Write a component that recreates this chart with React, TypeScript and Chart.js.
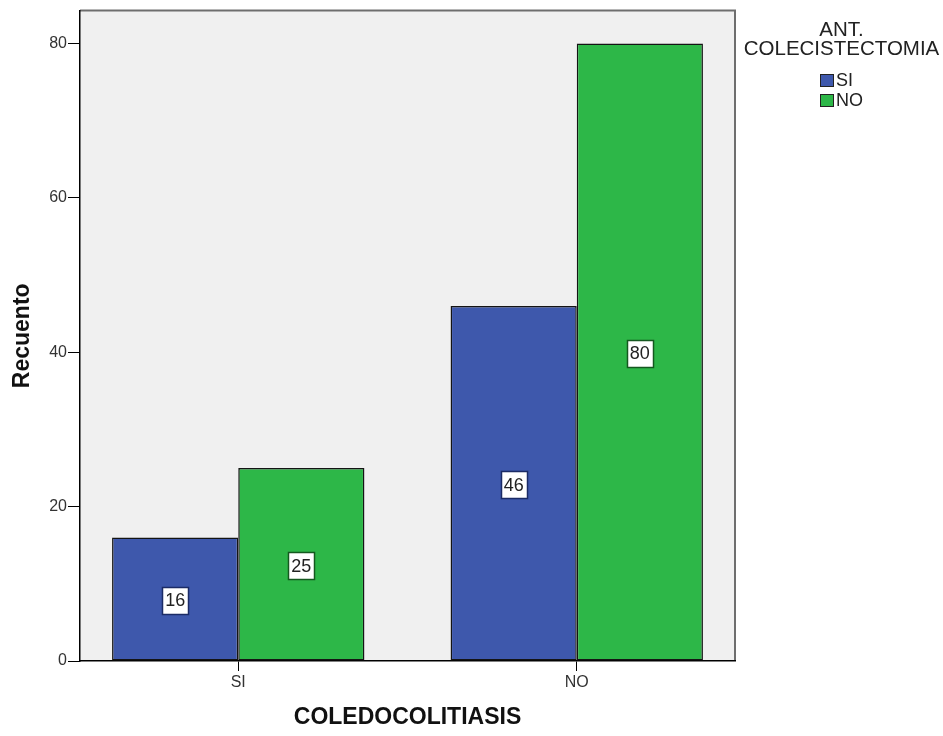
import React, { useEffect, useRef } from "react";
import { Chart, registerables } from "chart.js";

Chart.register(...registerables);

// Categories on the x axis (COLEDOCOLITIASIS)
const CATEGORIES = ["SI", "NO"];
// Grouping variable (ANT. COLECISTECTOMIA)
const GROUP_LABELS = ["SI", "NO"];
const COUNTS_ANT_SI = [16, 46];
const COUNTS_ANT_NO = [25, 80];
const Y_TICKS = [0, 20, 40, 60, 80];
const LEGEND_TITLE = ["ANT.", "COLECISTECTOMIA"];

const GROUP_COLORS = ["#3E58AC", "#2DB748"];
const GROUP_EDGE = ["#1B2B66", "#14581F"];

const FONT = "'Liberation Sans', Arial, Helvetica, sans-serif";

// Outer categories sit this far (in category units) from the plot edges
const EDGE_PAD = 0.4675;
const Y_MAX = 84.25;

const plotBackground = {
  id: "plotBackground",
  beforeDraw(chart: any) {
    const { ctx, chartArea: a } = chart;
    ctx.save();
    ctx.fillStyle = "#F0F0F0";
    ctx.fillRect(a.left, a.top, a.right - a.left, a.bottom - a.top);
    // top and right frame of the plot
    ctx.strokeStyle = "#6E6E6E";
    ctx.lineWidth = 2;
    ctx.beginPath();
    ctx.moveTo(a.left, a.top);
    ctx.lineTo(a.right, a.top);
    ctx.lineTo(a.right, a.bottom);
    ctx.stroke();
    ctx.restore();
  },
};

const barValueBoxes = {
  id: "barValueBoxes",
  afterDatasetsDraw(chart: any) {
    const { ctx } = chart;
    ctx.save();
    ctx.font = `18px ${FONT}`;
    ctx.textAlign = "center";
    ctx.textBaseline = "middle";
    chart.data.datasets.forEach((ds: any, di: number) => {
      const meta = chart.getDatasetMeta(di);
      meta.data.forEach((el: any, i: number) => {
        const { x, y, base } = el.getProps(["x", "y", "base"], true);
        const text = String(ds.data[i].y);
        const w = ctx.measureText(text).width + 6;
        const h = 27;
        const cy = (y + base) / 2 + 1.5;
        ctx.fillStyle = "#FFFFFF";
        ctx.fillRect(Math.round(x - w / 2) + 0.5, Math.round(cy - h / 2) + 0.5, Math.round(w), h);
        ctx.strokeStyle = ds.valueBoxEdge;
        ctx.lineWidth = 1.5;
        ctx.strokeRect(Math.round(x - w / 2) + 0.5, Math.round(cy - h / 2) + 0.5, Math.round(w), h);
        ctx.fillStyle = "#222222";
        ctx.fillText(text, x, cy + 1);
      });
    });
    ctx.restore();
  },
};

const sideLegend = {
  id: "sideLegend",
  afterDraw(chart: any) {
    const { ctx, chartArea: a } = chart;
    const cx = a.right + 106.5;
    ctx.save();
    ctx.fillStyle = "#222222";
    ctx.textAlign = "center";
    ctx.textBaseline = "middle";
    ctx.font = `20.5px ${FONT}`;
    LEGEND_TITLE.forEach((line, i) => {
      ctx.fillText(line, cx, 30 + i * 19.5);
    });
    ctx.font = `18px ${FONT}`;
    ctx.textAlign = "left";
    chart.data.datasets.forEach((ds: any, i: number) => {
      const bx = a.right + 85;
      const by = 74 + i * 20;
      ctx.fillStyle = ds.backgroundColor;
      ctx.fillRect(bx, by, 14, 13);
      ctx.strokeStyle = "#222222";
      ctx.lineWidth = 1;
      ctx.strokeRect(bx + 0.5, by + 0.5, 13, 12);
      ctx.fillStyle = "#222222";
      ctx.fillText(ds.label, bx + 16, by + 7);
    });
    ctx.restore();
  },
};

export default function App() {
  const canvasRef = useRef<HTMLCanvasElement | null>(null);

  useEffect(() => {
    document.body.style.margin = "0";
    const canvas = canvasRef.current;
    if (!canvas) return;

    const seriesValues = [COUNTS_ANT_SI, COUNTS_ANT_NO];
    const datasets = GROUP_LABELS.map((label, gi) => ({
      label,
      data: seriesValues[gi].map((v, ci) => ({ x: ci, y: v })),
      backgroundColor: GROUP_COLORS[gi],
      borderColor: "#141414",
      borderWidth: 1.5,
      borderSkipped: false,
      valueBoxEdge: GROUP_EDGE[gi],
    }));

    const chart = new Chart(canvas, {
      type: "bar",
      data: { datasets } as any,
      plugins: [plotBackground, barValueBoxes, sideLegend],
      options: {
        responsive: false,
        animation: false,
        devicePixelRatio: 1,
        layout: { padding: { top: 7, right: 208, left: 0, bottom: 0 } },
        datasets: { bar: { categoryPercentage: 252 / 338, barPercentage: 1 } },
        plugins: { legend: { display: false }, tooltip: { enabled: false } },
        scales: {
          x: {
            type: "linear",
            min: -EDGE_PAD,
            max: CATEGORIES.length - 1 + EDGE_PAD,
            offset: false,
            afterFit: (s: any) => {
              s.height = 75;
            },
            afterBuildTicks: (s: any) => {
              s.ticks = CATEGORIES.map((_, i) => ({ value: i }));
            },
            ticks: {
              callback: (v: any) => CATEGORIES[v],
              font: { family: FONT, size: 16 },
              color: "#333333",
              padding: 2,
              autoSkip: false,
              maxRotation: 0,
            },
            grid: {
              display: true,
              drawOnChartArea: false,
              drawTicks: true,
              tickLength: 10,
              color: "#000000",
              offset: false,
            },
            border: { display: true, color: "#000000", width: 1.5 },
            title: {
              display: true,
              text: "COLEDOCOLITIASIS",
              font: { family: FONT, size: 23, weight: "bold", lineHeight: 1 },
              color: "#111111",
              padding: { top: 0, bottom: 6.5 },
            },
          },
          y: {
            type: "linear",
            min: 0,
            max: Y_MAX,
            afterFit: (s: any) => {
              s.width = 80;
            },
            afterBuildTicks: (s: any) => {
              s.ticks = Y_TICKS.map((v) => ({ value: v }));
            },
            ticks: {
              font: { family: FONT, size: 16 },
              color: "#333333",
              padding: 1,
            },
            grid: {
              display: true,
              drawOnChartArea: false,
              drawTicks: true,
              tickLength: 12,
              color: "#000000",
            },
            border: { display: true, color: "#000000", width: 1.5 },
            title: {
              display: true,
              text: "Recuento",
              font: { family: FONT, size: 23, weight: "bold", lineHeight: 1 },
              color: "#111111",
              padding: { top: 11, bottom: 0 },
            },
          },
        },
      } as any,
    });

    return () => chart.destroy();
  }, []);

  return (
    <div style={{ width: 943, height: 736, background: "#FFFFFF" }}>
      <canvas ref={canvasRef} width={943} height={736} style={{ display: "block" }} />
    </div>
  );
}
